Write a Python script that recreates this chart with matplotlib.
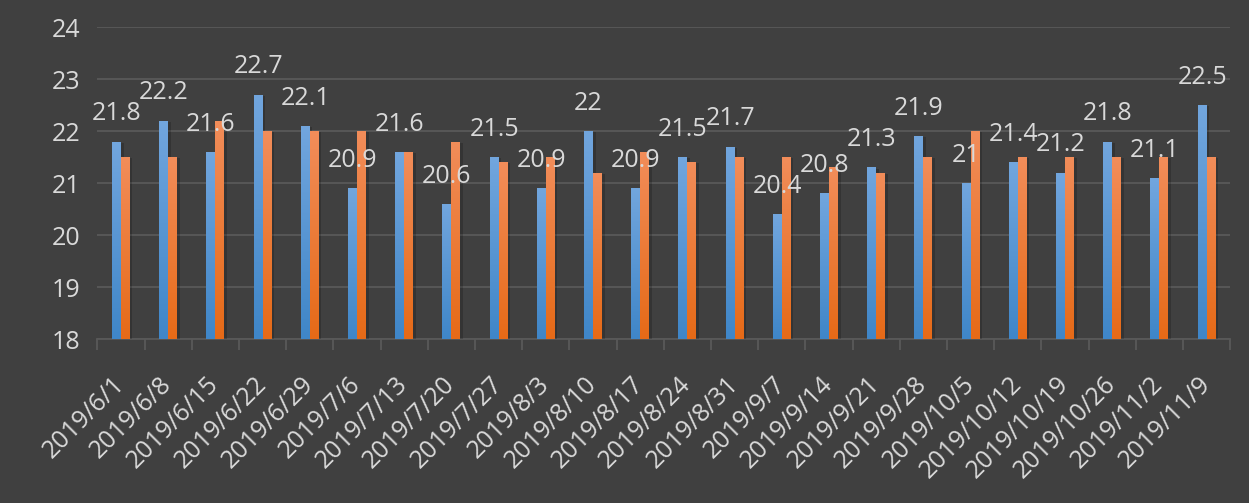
import numpy as np
import matplotlib.pyplot as plt
import matplotlib.patheffects as pe

dates = ['2019/6/1', '2019/6/8', '2019/6/15', '2019/6/22', '2019/6/29', '2019/7/6',
         '2019/7/13', '2019/7/20', '2019/7/27', '2019/8/3', '2019/8/10', '2019/8/17',
         '2019/8/24', '2019/8/31', '2019/9/7', '2019/9/14', '2019/9/21', '2019/9/28',
         '2019/10/5', '2019/10/12', '2019/10/19', '2019/10/26', '2019/11/2', '2019/11/9']
blue_vals = [21.8, 22.2, 21.6, 22.7, 22.1, 20.9, 21.6, 20.6, 21.5, 20.9, 22, 20.9,
             21.5, 21.7, 20.4, 20.8, 21.3, 21.9, 21, 21.4, 21.2, 21.8, 21.1, 22.5]
orange_vals = [21.5, 21.5, 22.2, 22.0, 22.0, 22.0, 21.6, 21.8, 21.4, 21.5, 21.2, 21.6,
               21.4, 21.5, 21.5, 21.3, 21.2, 21.5, 22.0, 21.5, 21.5, 21.5, 21.5, 21.5]

bg = '#404040'
txt = '#d9d9d9'
grid = '#595959'

plt.rcParams['font.family'] = ['Open Sans', 'DejaVu Sans']

fig = plt.figure(figsize=(12.49, 5.03), dpi=100, facecolor=bg)
ax = fig.add_axes([0.078, 0.326, 0.907, 0.62], facecolor=bg)

x = np.arange(len(dates))
w = 0.19
ymin = 18
shadow = [pe.SimplePatchShadow(offset=(1.8, -0.8), shadow_rgbFace='black', alpha=0.18), pe.Normal()]

def gradient_bars(bars, top_col, bot_col):
    cmap = plt.matplotlib.colors.LinearSegmentedColormap.from_list('g', [bot_col, top_col])
    grad = np.linspace(0, 1, 256).reshape(-1, 1)
    for b in bars:
        x0, y0 = b.get_x(), b.get_y()
        x1, y1 = x0 + b.get_width(), y0 + b.get_height()
        im = ax.imshow(grad, cmap=cmap, aspect='auto', origin='lower',
                       extent=(x0, x1, y0, y1), zorder=3)
        im.set_clip_path(b)

bars_b = ax.bar(x - w / 2, np.array(blue_vals) - ymin, w, bottom=ymin,
                color='#4a8fd2', zorder=3, linewidth=0, path_effects=shadow)
bars_o = ax.bar(x + w / 2, np.array(orange_vals) - ymin, w, bottom=ymin,
                color='#ee7a30', zorder=3, linewidth=0, path_effects=shadow)
gradient_bars(bars_b, '#72a6de', '#3f86c8')
gradient_bars(bars_o, '#f28d5a', '#e66a17')

for xi, v in zip(x, blue_vals):
    ax.annotate(f'{v:g}', (xi - w / 2, v), xytext=(0, 20), textcoords='offset points',
                ha='center', va='center', color=txt, fontsize=18, zorder=5)

ax.set_xlim(-0.5, len(dates) - 0.5)
ax.set_ylim(18, 24)
ax.set_yticks(range(18, 25))
ax.yaxis.grid(True, color=grid, linewidth=1.3)
ax.set_axisbelow(True)

ax.set_xticks(np.arange(-0.5, len(dates), 1))
ax.set_xticklabels([])
ax.set_xticks(x, minor=True)
ax.set_xticklabels(dates, minor=True, rotation=45, ha='right', rotation_mode='anchor',
                   va='center', color=txt, fontsize=18)
ax.tick_params(axis='x', which='major', length=8, color=grid, width=1.3)
ax.tick_params(axis='x', which='minor', length=0, pad=30)
ax.tick_params(axis='y', length=0, labelcolor=txt, labelsize=18, pad=12)

for s in ['top', 'right', 'left']:
    ax.spines[s].set_visible(False)
ax.spines['bottom'].set_color(grid)
ax.spines['bottom'].set_linewidth(1.3)

fig.savefig('out.png', dpi=100, facecolor=bg)
